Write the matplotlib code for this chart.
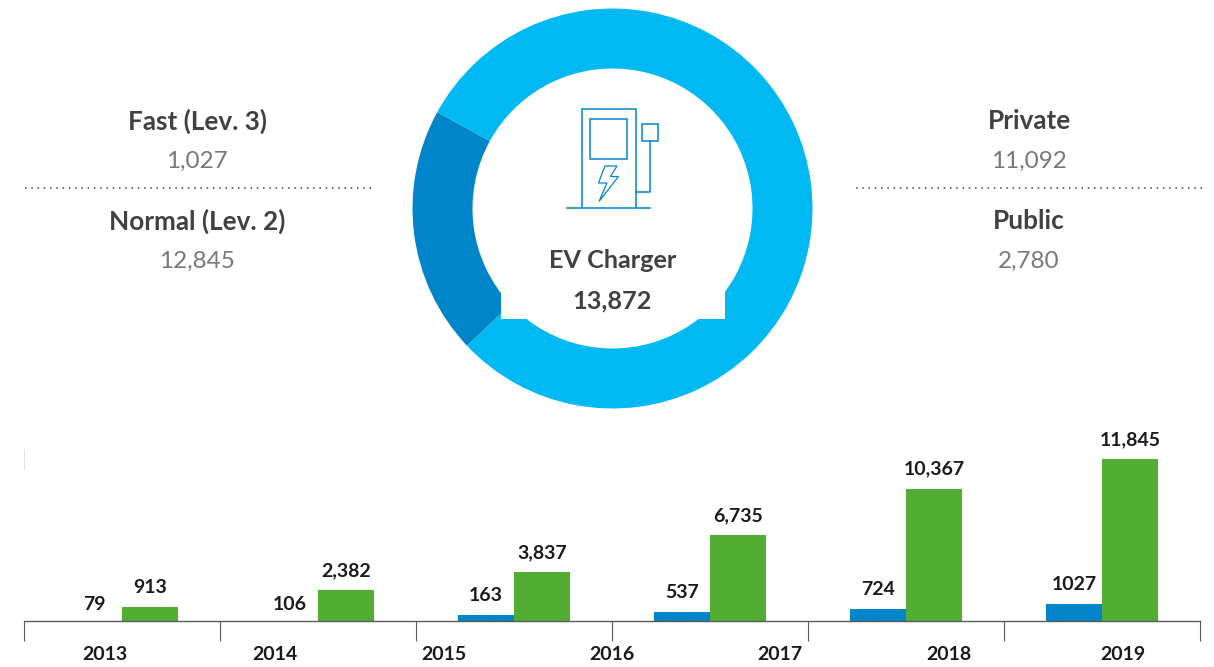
#EV charger figure: donut on top, yearly bars below
import matplotlib
matplotlib.use("Agg")
import matplotlib.pyplot as plt
from matplotlib.patches import Rectangle, Polygon

plt.rcParams['font.family'] = ['Lato', 'DejaVu Sans']

# donut
donut_names = ["Public", "Private"]
donut_values = [2780, 11092]

# side panels
left_names = ["Fast (Lev. 3)", "Normal (Lev. 2)"]
left_values = ["1,027", "12,845"]
right_names = ["Private", "Public"]
right_values = ["11,092", "2,780"]
center_name = "EV Charger"
center_value = "13,872"

# bars (heights, they do not follow the printed labels exactly)
blue_heights = [0, 0, 470, 705, 940, 1331]
green_heights = [1096, 2428, 3837, 6735, 10367, 12686]
blue_labels = ["79", "106", "163", "537", "724", "1027"]
green_labels = ["913", "2,382", "3,837", "6,735", "10,367", "11,845"]
year_labels = ["2013", "2014", "2015", "2016", "2017", "2018", "2019"]

LIGHT = "#00B9F2"
DARK = "#0085CB"
GREEN = "#52AE32"
TEXT = "#414042"
W, H = 1214, 667

fig = plt.figure(figsize=(W / 100, H / 100), dpi=100, facecolor="white")

def px_axes(x0, y0, x1, y1):
    return fig.add_axes([x0 / W, 1 - y1 / H, (x1 - x0) / W, (y1 - y0) / H])

# donut
ax_d = px_axes(412.5, 8.5, 812.5, 408.5)
ax_d.pie(donut_values, colors=[DARK, LIGHT], startangle=151.2, counterclock=True,
         radius=1, wedgeprops=dict(width=0.3, linewidth=0))
ax_d.set_xlim(-1, 1)
ax_d.set_ylim(-1, 1)

# bars
ax_b = px_axes(24, 440, 1200, 621)
xs = list(range(6))
bw = 56 / 196
blue_x = [i + 0.5 - bw / 2 for i in xs]
green_x = [i + 0.5 + bw / 2 for i in xs]
ax_b.bar(blue_x, blue_heights, width=bw, color=DARK, linewidth=0)
ax_b.bar(green_x, green_heights, width=bw, color=GREEN, linewidth=0)
ax_b.set_xlim(0, 6)
ax_b.set_ylim(0, 181 / 0.01277)
ax_b.patch.set_alpha(0)
for s in ["top", "left", "right"]:
    ax_b.spines[s].set_visible(False)
ax_b.spines["bottom"].set_color("#58595B")
ax_b.spines["bottom"].set_linewidth(1.0)
ax_b.set_yticks([])
ax_b.set_xticks(range(7))
ax_b.set_xticklabels([])
ax_b.tick_params(axis="x", length=14.4, width=0.8, color="#58595B")

for x, h, t in zip(blue_x, blue_heights, blue_labels):
    gap = 12 if h == 0 else 14
    ax_b.annotate(t, (x, h), xytext=(0, gap), textcoords="offset points", ha="center",
                  va="center", fontsize=14, fontweight="bold", color="#1A1A1A")
for x, h, t in zip(green_x, green_heights, green_labels):
    ax_b.annotate(t, (x, h), xytext=(0, 14), textcoords="offset points", ha="center",
                  va="center", fontsize=14, fontweight="bold", color="#1A1A1A")

# everything else in pixel coordinates
ov = px_axes(0, 0, W, H)
ov.set_xlim(0, W)
ov.set_ylim(H, 0)
ov.axis("off")
ov.patch.set_alpha(0)

ov.add_patch(Rectangle((501, 280), 224, 39, facecolor="white", edgecolor="none"))

for x, ts in [(197, (left_names, left_values)), (1029, (right_names, right_values))]:
    for k in range(2):
        y = 121 + 100 * k
        ov.text(x, y, ts[0][k], ha="center", va="center", fontsize=18.8, fontweight="bold", color=TEXT)
        ov.text(x, y + 40, ts[1][k], ha="center", va="center", fontsize=17.5, fontweight="normal", color="#77787B")

ov.text(612.5, 261, center_name, ha="center", va="center", fontsize=18.2, fontweight="bold", color=TEXT)
ov.text(612.5, 301, center_value, ha="center", va="center", fontsize=18.2, fontweight="bold", color=TEXT)

for x0, x1 in [(25, 372), (856, 1203)]:
    ov.plot([x0, x1], [188, 188], color="#414042", linewidth=1.1, linestyle=(0, (1, 3.1)))

# stray axis stub above the bars
ov.plot([24, 24], [449, 469], color="#E2E2E2", linewidth=0.8)

# year labels are not lined up with the bar groups in the source
year_x = [105, 275, 444, 612, 780, 949, 1123]
for x, t in zip(year_x, year_labels):
    ov.text(x, 654, t, ha="center", va="center", fontsize=14, fontweight="bold", color="#1A1A1A")

# charger icon
lw = 1.1
ov.add_patch(Polygon([(581.7, 208.3), (581.7, 109), (635.7, 109), (635.7, 208.3)], closed=False,
                     fill=False, edgecolor=DARK, linewidth=lw))
ov.add_patch(Rectangle((590, 119), 36.7, 40, fill=False, edgecolor=DARK, linewidth=lw))
ov.add_patch(Rectangle((642, 124.3), 16.3, 16.4, fill=False, edgecolor=DARK, linewidth=lw))
ov.plot([650, 650, 635.7], [140.7, 192.3, 192.3], color=DARK, linewidth=lw)
ov.plot([566.7, 650], [208.3, 208.3], color=DARK, linewidth=lw)
ov.add_patch(Polygon([(605, 166), (617, 166), (610.5, 176.5), (618.5, 176.5), (599, 201.5),
                      (607, 183), (598.5, 183)], closed=True, fill=False, edgecolor=DARK, linewidth=0.9))

plt.savefig("out.png", dpi=100)
